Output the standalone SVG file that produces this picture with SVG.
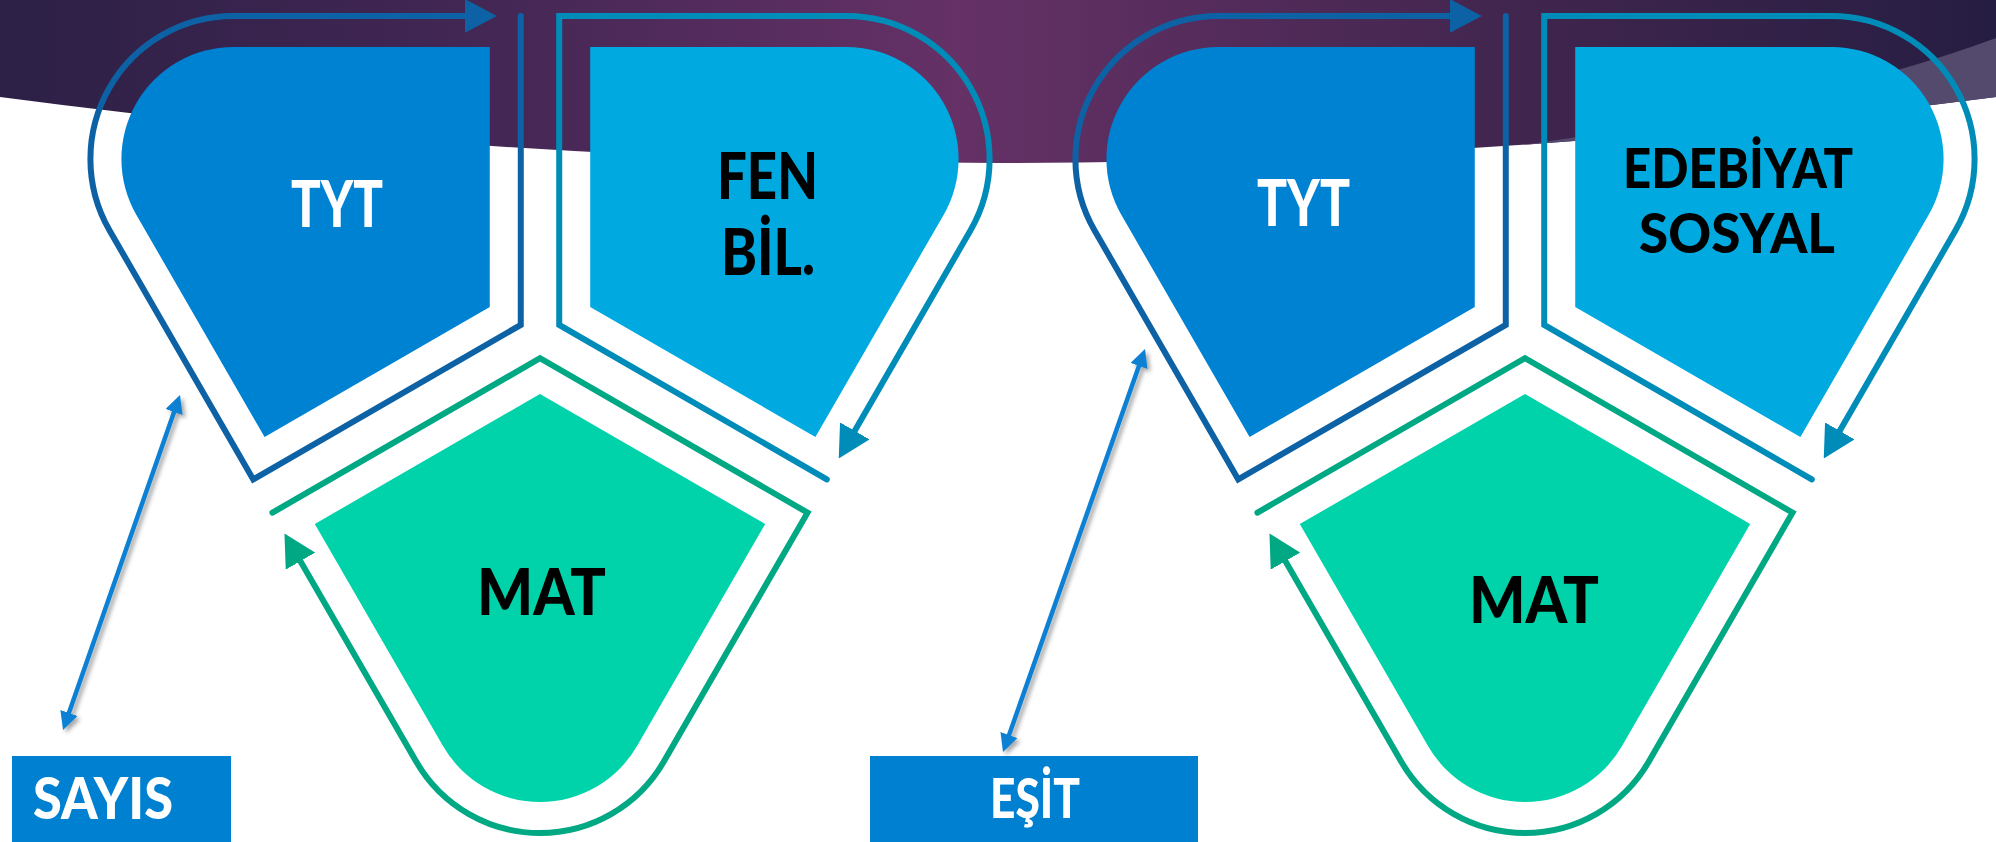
<svg xmlns="http://www.w3.org/2000/svg" width="1996" height="842" viewBox="0 0 1996 842">
  <defs>
    <linearGradient id="bandGrad" gradientUnits="userSpaceOnUse" x1="0" y1="0" x2="1996" y2="0">
      <stop offset="0" stop-color="#2c2046"/>
      <stop offset="0.25" stop-color="#442755"/>
      <stop offset="0.48" stop-color="#653166"/>
      <stop offset="0.75" stop-color="#42264f"/>
      <stop offset="1" stop-color="#261d42"/>
    </linearGradient>
    <clipPath id="bandClip">
      <path d="M0,0 H1996 V97 Q998,229 0,97 Z"/>
    </clipPath>
    <marker id="mTyt" markerUnits="userSpaceOnUse" viewBox="0 0 32 34" markerWidth="32" markerHeight="34" refX="2" refY="17" orient="auto">
      <path d="M0,0 L32,17 L0,34 Z" fill="#0d62a5"/>
    </marker>
    <marker id="mFen" markerUnits="userSpaceOnUse" viewBox="0 0 32 34" markerWidth="32" markerHeight="34" refX="2" refY="17" orient="auto">
      <path d="M0,0 L32,17 L0,34 Z" fill="#008cb9"/>
    </marker>
    <marker id="mMat" markerUnits="userSpaceOnUse" viewBox="0 0 32 34" markerWidth="32" markerHeight="34" refX="2" refY="17" orient="auto">
      <path d="M0,0 L32,17 L0,34 Z" fill="#00a884"/>
    </marker>
    <marker id="mDbl" markerUnits="userSpaceOnUse" viewBox="0 0 18 18" markerWidth="18" markerHeight="18" refX="3" refY="9" orient="auto-start-reverse">
      <path d="M0,0 L18,9 L0,18 Z" fill="#0a80d4"/>
    </marker>
    <filter id="shadow" x="-20%" y="-20%" width="140%" height="140%">
      <feDropShadow dx="3" dy="3" stdDeviation="2" flood-color="#000" flood-opacity="0.35"/>
    </filter>
    <path id="shapeT" d="M0,58 L-225.2,188 L-97,410 A112,112 0 0 0 97,410 L225.2,188 Z"/>
    <path id="outlineT" d="M-267.55,176.65 L0,22.2 L267.55,176.65 L123.85,425.5 A143,143 0 0 1 -123.85,425.5 L-240.55,223.42"/>
  </defs>
  <style>
    .lbl { font-family: "Lato", "Liberation Sans", sans-serif; font-weight: 900; text-anchor: middle; }
    .w { fill: #ffffff; }
    .k { fill: #000000; }
    .ol { fill: none; stroke-width: 6; stroke-linecap: round; stroke-linejoin: miter; }
    .dbl { fill: none; stroke: #0a80d4; stroke-width: 4.5; marker-start: url(#mDbl); marker-end: url(#mDbl); }
    .box { fill: #0080d0; }
  </style>

  <rect x="0" y="0" width="1996" height="842" fill="#ffffff"/>
  <g id="background">
    <path d="M0,0 H1996 V97 Q998,229 0,97 Z" fill="url(#bandGrad)"/>
    <path d="M1400,160 Q1780,118 1996,38 L1996,220 L1400,220 Z" fill="#544a6e" clip-path="url(#bandClip)"/>
  </g>

  <!-- Left cluster nodes -->
  <g id="node-tyt-1">
    <use href="#shapeT" transform="translate(540,336) rotate(120)" fill="#0082d3"/>
    <text class="lbl w" x="337" y="227" font-size="65" textLength="92" lengthAdjust="spacingAndGlyphs">TYT</text>
  </g>
  <g id="node-fen">
    <use href="#shapeT" transform="translate(540,336) rotate(240)" fill="#00aae0"/>
    <text class="lbl k" x="767.5" y="199" font-size="64" textLength="101" lengthAdjust="spacingAndGlyphs">FEN</text>
    <text class="lbl k" x="768" y="275" font-size="64" textLength="94" lengthAdjust="spacingAndGlyphs">BİL.</text>
  </g>
  <g id="node-mat-1">
    <use href="#shapeT" transform="translate(540,336)" fill="#00d2aa"/>
    <text class="lbl k" x="541.5" y="615" font-size="64.5" textLength="129" lengthAdjust="spacingAndGlyphs">MAT</text>
  </g>

  <!-- Right cluster nodes -->
  <g id="node-tyt-2">
    <use href="#shapeT" transform="translate(1525,336) rotate(120)" fill="#0082d3"/>
    <text class="lbl w" x="1303.5" y="226" font-size="65" textLength="93" lengthAdjust="spacingAndGlyphs">TYT</text>
  </g>
  <g id="node-edebiyat">
    <use href="#shapeT" transform="translate(1525,336) rotate(240)" fill="#00aae0"/>
    <text class="lbl k" x="1738" y="188" font-size="54.5" textLength="230" lengthAdjust="spacingAndGlyphs">EDEBİYAT</text>
    <text class="lbl k" x="1737" y="253" font-size="54.5" textLength="196" lengthAdjust="spacingAndGlyphs">SOSYAL</text>
  </g>
  <g id="node-mat-2">
    <use href="#shapeT" transform="translate(1525,336)" fill="#00d2aa"/>
    <text class="lbl k" x="1534" y="623" font-size="65" textLength="130" lengthAdjust="spacingAndGlyphs">MAT</text>
  </g>

  <!-- Label boxes -->
  <g id="node-sayis">
    <rect class="box" x="12" y="756" width="219" height="90"/>
    <text class="lbl w" x="103" y="819" font-size="57" textLength="140" lengthAdjust="spacingAndGlyphs">SAYIS</text>
  </g>
  <g id="node-esit">
    <rect class="box" x="870" y="756" width="328" height="90"/>
    <text class="lbl w" x="1035" y="818" font-size="56" textLength="90" lengthAdjust="spacingAndGlyphs">EŞİT</text>
  </g>

  <!-- Connectors -->
  <g id="connectors">
    <use href="#outlineT" class="ol" stroke="#0d62a5" marker-end="url(#mTyt)" transform="translate(540,336) rotate(120)"/>
    <use href="#outlineT" class="ol" stroke="#008cb9" marker-end="url(#mFen)" transform="translate(540,336) rotate(240)"/>
    <use href="#outlineT" class="ol" stroke="#00a884" marker-end="url(#mMat)" transform="translate(540,336)"/>
    <use href="#outlineT" class="ol" stroke="#0d62a5" marker-end="url(#mTyt)" transform="translate(1525,336) rotate(120)"/>
    <use href="#outlineT" class="ol" stroke="#008cb9" marker-end="url(#mFen)" transform="translate(1525,336) rotate(240)"/>
    <use href="#outlineT" class="ol" stroke="#00a884" marker-end="url(#mMat)" transform="translate(1525,336)"/>
    <line class="dbl" filter="url(#shadow)" x1="175.05" y1="409.16" x2="67.95" y2="715.84"/>
    <line class="dbl" filter="url(#shadow)" x1="1140" y1="363.1" x2="1008" y2="737.9"/>
  </g>
</svg>
